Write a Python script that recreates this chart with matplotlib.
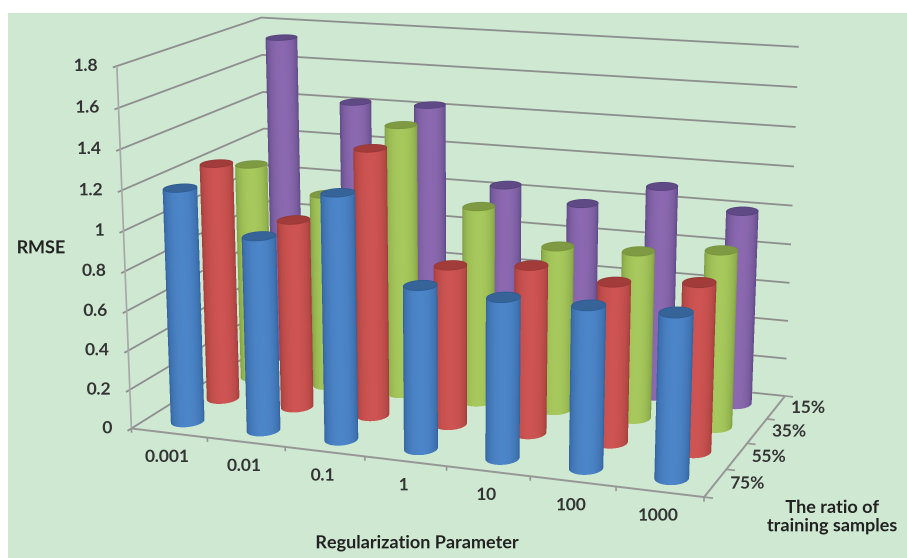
import numpy as np
import matplotlib
matplotlib.use("Agg")
import matplotlib.pyplot as plt
from matplotlib.patches import Rectangle
from mpl_toolkits.mplot3d.art3d import Poly3DCollection, Line3DCollection

lambdas = ["0.001", "0.01", "0.1", "1", "10", "100", "1000"]
ratios = ["75%", "55%", "35%", "15%"]
rmse_ticks = [0, 0.2, 0.4, 0.6, 0.8, 1, 1.2, 1.4, 1.6, 1.8]

rmse_75 = [1.185, 0.98, 1.225, 0.81, 0.79, 0.79, 0.795]
rmse_55 = [1.225, 0.97, 1.36, 0.81, 0.845, 0.80, 0.835]
rmse_35 = [1.14, 1.015, 1.40, 1.015, 0.845, 0.855, 0.895]
rmse_15 = [1.735, 1.42, 1.43, 1.04, 0.975, 1.095, 1.00]
series = [rmse_75, rmse_55, rmse_35, rmse_15]

# (center colour, silhouette colour, cap colour)
colores = [("#4c85c8", "#2c5a92", "#376599"),
           ("#cd5452", "#953735", "#a23c3a"),
           ("#a6c85c", "#76923c", "#7f9a42"),
           ("#8b69b0", "#54407a", "#5f4a85")]

W, H = 907, 558
Z_TOP = 1.8
RX, RY = 0.185, 0.24  # radio del cilindro en unidades de cada eje
ESCALA = 3  # se guarda a mas resolucion y luego se promedia

# Camara: esquinas y marcas de la caja del grafico -> pixeles
caja = [(0, 0, 0), (0, 0, 1.8), (7, 0, 0), (7, 4, 0), (7, 4, 1.8), (0, 4, 1.8),
        (1, 0, 0), (2, 0, 0), (3, 0, 0), (4, 0, 0), (5, 0, 0), (6, 0, 0),
        (7, 1, 0), (7, 2, 0), (7, 3, 0), (0, 0, 0.8)]
pixeles = [(132, 428), (117, 66), (704, 495), (785, 395), (799, 47), (261, 18),
           (207, 438), (285, 447), (365, 457), (447, 467), (530, 477), (616, 487),
           (726, 470), (747, 444), (767, 419), (125, 270)]


def ajustar_camara(puntos, destino):
    A, b = [], []
    for (x, y, z), (u, v) in zip(puntos, destino):
        A.append([x, y, z, 1, 0, 0, 0, 0, -u * x, -u * y, -u * z])
        b.append(u)
        A.append([0, 0, 0, 0, x, y, z, 1, -v * x, -v * y, -v * z])
        b.append(v)
    p = np.linalg.lstsq(np.array(A, float), np.array(b, float), rcond=None)[0]
    return np.append(p, 1.0).reshape(3, 4)


P = ajustar_camara(caja, pixeles)
M = np.vstack([P[0], P[1], [0, 0, 0, -1.0], P[2]])
camara = np.linalg.solve(P[:, :3], -P[:, 3])


def proyectar(x, y, z):
    q = P @ np.array([x, y, z, 1.0])
    return q[0] / q[2], q[1] / q[2]


fig = plt.figure(figsize=(W / 100, H / 100), dpi=100, facecolor="white")
fig.patches.append(Rectangle((8 / W, 0), 1, 1 - 13 / H, transform=fig.transFigure,
                             facecolor="#cee8d2", edgecolor="none", zorder=-5))
ax = fig.add_axes([0, 0, 1, 1], projection="3d", computed_zorder=False)
ax.apply_aspect = lambda position=None: None
ax.get_proj = lambda: M
ax.viewLim.intervalx = (0, W)
ax.viewLim.intervaly = (H, 0)
ax.set_axis_off()
ax.patch.set_alpha(0)


def lineas(tramos, color, ancho, orden=1):
    ax.add_collection3d(Line3DCollection(tramos, colors=color, linewidths=ancho, zorder=orden))


# Paredes y ejes
lineas([[(0, -0.1, z), (0, 4, z), (7, 4, z)] for z in rmse_ticks], "#8e8e8e", 1.3)
lineas([[(0, 0, 0), (0, 0, Z_TOP)]], "#a8a8a8", 1.2)
lineas([[(0, 0, 0), (7, 0, 0), (7, 4, 0)]], "#969696", 1.4)
lineas([[(i, 0, 0), (i, 0, -0.022)] for i in range(8)], "#969696", 1.2)
lineas([[(7, j, 0), (7.1, j, 0)] for j in range(5)], "#969696", 1.2)


def cilindro(cx, cy, altura, color, orden):
    centro, borde, tapa = [np.array(matplotlib.colors.to_rgb(c)) for c in color]
    # solo la mitad que mira a la camara
    tc = np.arctan2((camara[1] - cy) / RY, (camara[0] - cx) / RX)
    t = tc + np.radians(np.linspace(-90, 90, 73))
    X = np.tile(cx + RX * np.cos(t), (2, 1))
    Y = np.tile(cy + RY * np.sin(t), (2, 1))
    Z = np.vstack([np.zeros_like(t), np.full_like(t, altura)])
    s = np.clip(np.cos(t + (t[1] - t[0]) / 2 - tc), 0, 1) ** 0.9
    tonos = borde + (centro - borde) * s[:, None]
    caras = np.tile(tonos[None, :, :], (2, 1, 1))
    ax.plot_surface(X, Y, Z, facecolors=caras, rstride=1, cstride=1, shade=False,
                    linewidth=0.3, antialiased=False, zorder=orden)
    a = np.linspace(0, 2 * np.pi, 73)
    borde_tapa = list(zip(cx + RX * np.cos(a), cy + RY * np.sin(a), np.full_like(a, altura)))
    ax.add_collection3d(Poly3DCollection([borde_tapa], facecolor=tapa, edgecolor=borde,
                                         linewidth=0.5, zorder=orden + 0.5))


# De atras hacia adelante
for j in range(len(ratios) - 1, -1, -1):
    for i in range(len(lambdas)):
        orden = 10 + (len(ratios) - j) * 20 + i
        cilindro(i + 0.5, j + 0.5, series[j][i], colores[j], orden)

fuente = dict(family="Lato", weight="bold", color="#333333", fontsize=12.5, zorder=200)

for z in rmse_ticks:
    ax.annotate(str(z), proyectar(0, 0, z), xytext=(-13.7, 0), textcoords="offset points",
                ha="right", va="center", **fuente)
for i, nombre in enumerate(lambdas):
    ax.annotate(nombre, proyectar(i + 0.5, 0, 0), xytext=(-1.4, -17.3), textcoords="offset points",
                ha="center", va="center", **fuente)
for j, nombre in enumerate(ratios):
    ax.annotate(nombre, proyectar(7, j + 0.5, 0), xytext=(23, -0.7), textcoords="offset points",
                ha="center", va="center", **fuente)

fuente_eje = dict(family="Lato", weight="bold", color="#222222", fontsize=13)
fig.text(41 / W, 1 - 248 / H, "RMSE", ha="center", va="center", **fuente_eje)
fig.text(417 / W, 1 - 543 / H, "Regularization Parameter", ha="center", va="center", **fuente_eje)
fig.text(832 / W, 1 - 517 / H, "The ratio of\ntraining samples", ha="center", va="center",
         linespacing=1.15, **fuente_eje)

fig.savefig("out.png", dpi=100 * ESCALA)

# Promediar por bloques para suavizar los bordes de los cilindros
img = plt.imread("out.png")[:, :, :3]
img = img.reshape(H, ESCALA, W, ESCALA, 3).mean(axis=(1, 3))
plt.imsave("out.png", img)
